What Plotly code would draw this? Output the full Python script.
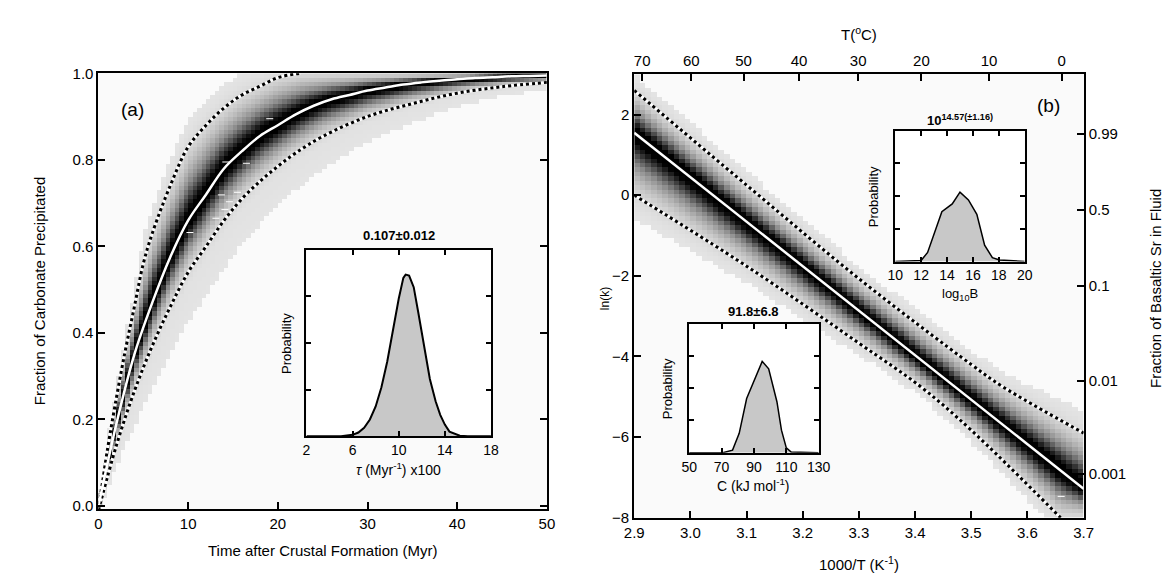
import numpy as np
import plotly.graph_objects as go

# ---- panel (a): values ----
t_med = [0, 2, 4, 6, 8, 10, 12, 14, 16, 18, 20, 22, 24, 26, 28, 30, 32, 34, 36, 38, 40, 42, 44, 46, 48, 50]
f_med = [0, 0.19, 0.35, 0.47, 0.575, 0.66, 0.72, 0.78, 0.82, 0.855, 0.88, 0.905, 0.925, 0.94, 0.95,
         0.96, 0.967, 0.974, 0.979, 0.983, 0.986, 0.989, 0.991, 0.993, 0.994, 0.995]
t_hi = [0, 1, 2, 3, 4, 5, 6, 8, 10, 12, 14, 16, 18, 20, 22.5]
f_hi = [-0.01, 0.13, 0.25, 0.36, 0.46, 0.56, 0.63, 0.74, 0.83, 0.88, 0.92, 0.95, 0.97, 0.99, 1.0]
t_lo = [0, 2, 4, 6, 8, 10, 12, 14, 16, 18, 20, 22, 25, 30, 35, 40, 45, 50]
f_lo = [-0.01, 0.14, 0.265, 0.37, 0.46, 0.54, 0.60, 0.66, 0.71, 0.75, 0.785, 0.816, 0.854, 0.90,
        0.93, 0.954, 0.969, 0.979]
t_obs = [19.1, 14.2, 16.5, 13.7, 15.5, 14.6, 14.1, 13.1, 10.2]
f_obs = [0.895, 0.795, 0.792, 0.719, 0.725, 0.703, 0.685, 0.665, 0.632]

# inset (a): posterior of tau (x100)
tau = [2, 5, 6, 6.5, 7, 7.5, 8, 8.5, 9, 9.5, 10, 10.4, 10.6, 10.9, 11.3, 11.7, 12.1, 12.7, 13.2,
       13.6, 14.0, 14.4, 15.3, 16, 18]
p_tau = [0, 0, 0.03, 0.08, 0.18, 0.36, 0.64, 1.05, 1.6, 2.3, 2.95, 3.4, 3.47, 3.45, 3.2, 2.65,
         2.06, 1.23, 0.75, 0.46, 0.25, 0.1, 0.01, 0, 0]

# ---- panel (b) ----
x_med_b = [2.9, 3.7]
lnk_med = [1.55, -7.28]
x_hi_b = [2.9, 3.1, 3.3, 3.5, 3.556, 3.7]
lnk_hi = [2.6, 0.25, -2.07, -4.2, -4.75, -5.9]
x_lo_b = [2.9, 3.1, 3.3, 3.41, 3.5, 3.659]
lnk_lo = [0.0, -1.76, -3.67, -4.75, -5.83, -8.0]
x_obs_b = [3.66]
lnk_obs_b = [-7.47]

c_kj = [50, 70.7, 76.8, 80.9, 85.5, 90, 95.1, 99.1, 104.2, 107, 110, 113, 130]
p_c = [0, 0, 0.08, 0.6, 1.68, 2.2, 2.83, 2.6, 1.58, 0.7, 0.15, 0.02, 0]
logb = [10, 11.7, 12.0, 12.5, 13.6, 14.4, 15.0, 15.65, 16.3, 16.9, 17.5, 18.05, 20]
p_b = [0, 0.01, 0.03, 0.28, 1.52, 1.76, 2.12, 1.88, 1.44, 0.5, 0.12, 0.05, 0]

temp_ticks = [70, 60, 50, 40, 30, 20, 10, 0]
frac_ticks = [0.99, 0.5, 0.1, 0.01, 0.001]
frac_labels = ['0.99', '0.5', '0.1', '0.01', '0.001']

W, H = 1173, 575
FONT = 'Liberation Sans, Arial, sans-serif'


def px(x):
    return x / W


def py(y):
    return 1 - y / H


def band(xc, yc, xm, ym, xh, yh, xl, yl, floor, halo_up, halo_dn):
    # density image built from the read median / bound curves, with a faint wide halo
    m = np.interp(xc, xm, ym)
    u = np.interp(xc, xh, yh)
    l = np.interp(xc, xl, yl)
    su = np.maximum(u - m, floor) / 2.2
    sl = np.maximum(m - l, floor) / 2.2
    d = yc[:, None] - m[None, :]
    above = d > 0
    s = np.where(above, su[None, :], sl[None, :])
    core = np.exp(-0.5 * (d / s) ** 2)
    hw = np.where(above, halo_up, halo_dn)
    halo = 0.05 * np.exp(-0.5 * (d / (hw * s)) ** 2)
    return np.maximum(core, halo)


gray = [[0, '#fafafa'], [0.01, '#fafafa'], [0.01, '#e4e4e4'], [0.1, '#d6d6d6'], [0.3, '#b5b5b5'],
        [0.55, '#888888'], [0.75, '#505050'], [0.9, '#1a1a1a'], [0.96, '#000000'], [1, '#000000']]

fig = go.Figure()

# panel (a)
ta = np.arange(0.25, 50, 0.5)
fa = np.arange(0.005, 1.0, 0.01)
za = band(ta, fa, t_med, f_med, t_hi, f_hi, t_lo, f_lo, 0.012, 1.5, 2.4)
fig.add_trace(go.Heatmap(x=ta, y=fa, z=za, colorscale=gray, zmin=0, zmax=1, showscale=False,
                         hoverinfo='skip', xaxis='x', yaxis='y'))
for tx, fy in [(t_hi, f_hi), (t_lo, f_lo)]:
    fig.add_trace(go.Scatter(x=tx, y=fy, mode='lines', line=dict(color='white', width=3, shape='spline'),
                             xaxis='x', yaxis='y', showlegend=False))
    fig.add_trace(go.Scatter(x=tx, y=fy, mode='lines',
                             line=dict(color='black', width=3, dash='dot', shape='spline'),
                             xaxis='x', yaxis='y', showlegend=False))
fig.add_trace(go.Scatter(x=t_med, y=f_med, mode='lines', line=dict(color='white', width=2.5, shape='spline'),
                         xaxis='x', yaxis='y', showlegend=False))
fig.add_trace(go.Scatter(x=t_obs, y=f_obs, mode='markers',
                         marker=dict(symbol='line-ew', size=5, line=dict(color='white', width=1)),
                         xaxis='x', yaxis='y', showlegend=False))

# panel (b)
xb = np.arange(2.905, 3.7, 0.01)
yb = np.arange(-7.95, 3.0, 0.11)
zb = band(xb, yb, x_med_b, lnk_med, x_hi_b, lnk_hi, x_lo_b, lnk_lo, 0.3, 1.7, 1.6)
fig.add_trace(go.Heatmap(x=xb, y=yb, z=zb, colorscale=gray, zmin=0, zmax=1, showscale=False,
                         hoverinfo='skip', xaxis='x2', yaxis='y2'))
for xx, yy in [(x_hi_b, lnk_hi), (x_lo_b, lnk_lo)]:
    fig.add_trace(go.Scatter(x=xx, y=yy, mode='lines', line=dict(color='white', width=3, shape='spline'),
                             xaxis='x2', yaxis='y2', showlegend=False))
    fig.add_trace(go.Scatter(x=xx, y=yy, mode='lines',
                             line=dict(color='black', width=3, dash='dot', shape='spline'),
                             xaxis='x2', yaxis='y2', showlegend=False))
fig.add_trace(go.Scatter(x=x_med_b, y=lnk_med, mode='lines', line=dict(color='white', width=2.5),
                         xaxis='x2', yaxis='y2', showlegend=False))
fig.add_trace(go.Scatter(x=x_obs_b, y=lnk_obs_b, mode='markers',
                         marker=dict(symbol='line-ew', size=5, line=dict(color='white', width=1)),
                         xaxis='x2', yaxis='y2', showlegend=False))
# invisible points so the top (T) and right (fraction) axes get drawn
fig.add_trace(go.Scatter(x=[3.0], y=[0], mode='markers', marker=dict(opacity=0), hoverinfo='skip',
                         xaxis='x3', yaxis='y2', showlegend=False))
fig.add_trace(go.Scatter(x=[3.0], y=[0], mode='markers', marker=dict(opacity=0), hoverinfo='skip',
                         xaxis='x2', yaxis='y3', showlegend=False))

# insets: white backing, then filled density
insets = [('x4', 'y4', tau, p_tau, 2, 18, 2.0),
          ('x5', 'y5', c_kj, p_c, 50, 130, 1.5),
          ('x6', 'y6', logb, p_b, 10, 20, 1.5)]
for xa_, ya_, xs, ys, lo, hi, lw in insets:
    fig.add_trace(go.Scatter(x=[lo, hi, hi, lo, lo], y=[0, 0, 4, 4, 0], fill='toself', fillcolor='white',
                             mode='lines', line=dict(width=0), xaxis=xa_, yaxis=ya_, showlegend=False,
                             hoverinfo='skip'))
    fig.add_trace(go.Scatter(x=xs, y=ys, fill='tozeroy', fillcolor='#c8c8c8', mode='lines',
                             line=dict(color='black', width=lw), xaxis=xa_, yaxis=ya_, showlegend=False))

tickfont = dict(family=FONT, size=15, color='black')
main_ax = dict(showline=True, linecolor='black', linewidth=2, ticks='inside', ticklen=7, tickwidth=1.5,
               tickcolor='black', showgrid=False, zeroline=False, tickfont=tickfont)
inset_ax = dict(showline=True, linecolor='black', linewidth=2, ticks='inside', ticklen=5, tickwidth=1.5,
                tickcolor='black', showgrid=False, zeroline=False, mirror='ticks',
                tickfont=dict(family=FONT, size=14, color='black'))

# plot boxes in pixels (x0, x1, ytop, ybottom)
A = (82, 539, 58, 507)
B = (628, 1086, 59, 516)
IA = (294, 482, 240, 432)
IB1 = (684, 816, 316, 449)
IB2 = (894, 1026, 117, 252)


def dom(box):
    x0, x1, y0, y1 = box
    return [px(x0), px(x1)], [py(y1), py(y0)]


dxa, dya = dom(A)
dxb, dyb = dom(B)
dx4, dy4 = dom(IA)
dx5, dy5 = dom(IB1)
dx6, dy6 = dom(IB2)

fig.update_layout(
    width=W, height=H, margin=dict(l=0, r=0, t=0, b=0),
    paper_bgcolor='white', plot_bgcolor='#fafafa', showlegend=False,
    font=dict(family=FONT, size=15, color='black'),
    xaxis=dict(main_ax, domain=dxa, range=[0, 50], tickvals=[0, 10, 20, 30, 40, 50], mirror=True, anchor='y'),
    yaxis=dict(main_ax, domain=dya, range=[-0.007, 1.0], tickvals=[0, 0.2, 0.4, 0.6, 0.8, 1.0],
               tickformat='.1f', mirror='ticks', anchor='x'),
    xaxis2=dict(main_ax, domain=dxb, range=[2.9, 3.7], tickvals=[2.9, 3.0, 3.1, 3.2, 3.3, 3.4, 3.5, 3.6, 3.7],
                tickformat='.1f', anchor='y2'),
    yaxis2=dict(main_ax, domain=dyb, range=[-8, 3], tickvals=[-8, -6, -4, -2, 0, 2], anchor='x2'),
    xaxis3=dict(main_ax, overlaying='x2', side='top', anchor='y2', range=[2.9, 3.7],
                tickvals=[1000 / (T + 273.15) for T in temp_ticks], ticktext=[str(T) for T in temp_ticks]),
    yaxis3=dict(main_ax, overlaying='y2', side='right', anchor='x2', range=[-8, 3],
                tickvals=[float(np.log(-np.log(1 - f))) for f in frac_ticks], ticktext=frac_labels),
    xaxis4=dict(inset_ax, domain=dx4, range=[2, 18], tickvals=[2, 6, 10, 14, 18], anchor='y4'),
    yaxis4=dict(inset_ax, domain=dy4, range=[0, 4], tickvals=[1, 2, 3], showticklabels=False, anchor='x4'),
    xaxis5=dict(inset_ax, domain=dx5, range=[50, 130], tickvals=[50, 70, 90, 110, 130], anchor='y5'),
    yaxis5=dict(inset_ax, domain=dy5, range=[0, 4], tickvals=[1, 2, 3], showticklabels=False, anchor='x5'),
    xaxis6=dict(inset_ax, domain=dx6, range=[10, 20], tickvals=[10, 12, 14, 16, 18, 20], anchor='y6'),
    yaxis6=dict(inset_ax, domain=dy6, range=[0, 4], tickvals=[1, 2, 3], showticklabels=False, anchor='x6'),
)

ann = []


def text(x, y, s, size=15, angle=0, bold=False):
    if bold:
        s = '<b>' + s + '</b>'
    ann.append(dict(x=px(x), y=py(y), xref='paper', yref='paper', text=s, showarrow=False, textangle=angle,
                    font=dict(family=FONT, size=size, color='black'), xanchor='center', yanchor='middle'))


text(22, 283, 'Fraction of Carbonate Precipitated', 15, -90)
text(310, 550, 'Time after Crustal Formation (Myr)', 15)
text(117, 95, '(a)', 19)
text(388, 225, '0.107±0.012', 13, bold=True)
text(273, 336, 'Probability', 13, -90)
text(388, 466, '<i>τ</i> (Myr<sup>-1</sup>) x100', 14)

text(857, 17, 'T(<sup>o</sup>C)', 15)
text(857, 563, '1000/T (K<sup>-1</sup>)', 15)
text(599, 290, 'ln(k)', 12, -90)
text(1159, 280, 'Fraction of Basaltic Sr in Fluid', 15, -90)
text(1050, 91, '(b)', 19)
text(750, 303, '91.8±6.8', 13, bold=True)
text(662, 383, 'Probability', 13, -90)
text(750, 482, 'C (kJ mol<sup>-1</sup>)', 14)
text(960, 106, '10<sup>14.57(±1.16)</sup>', 13, bold=True)
text(872, 185, 'Probability', 13, -90)
text(960, 286, 'log<sub>10</sub>B', 13)

fig.update_layout(annotations=ann)

fig.write_html("out.html")
